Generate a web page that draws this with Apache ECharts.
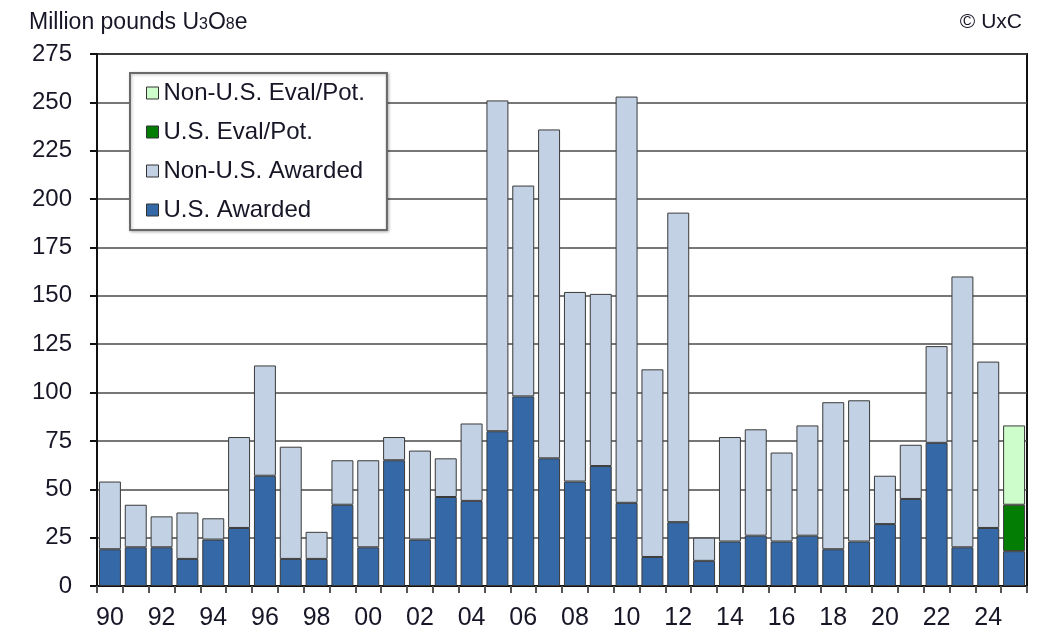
<!DOCTYPE html>
<html>
<head>
<meta charset="utf-8">
<script src="https://cdn.jsdelivr.net/npm/echarts@6/dist/echarts.min.js"></script>
<style>
  html, body { margin: 0; padding: 0; background: #fff; }
  #chart { width: 1050px; height: 632px; }
</style>
</head>
<body>
<div id="chart"></div>
<script>
// years 1990..2025, labelled by last two digits
var years = ['90','91','92','93','94','95','96','97','98','99',
             '00','01','02','03','04','05','06','07','08','09',
             '10','11','12','13','14','15','16','17','18','19',
             '20','21','22','23','24','25'];

var usAwarded    = [19, 20, 20, 14, 24, 30, 57, 14, 14, 42,
                    20, 65, 24, 46, 44, 80, 98, 66, 54, 62,
                    43, 15, 33, 13, 23, 26, 23, 26, 19, 23,
                    32, 45, 74, 20, 30, 18];
var nonUsAwarded = [35, 22, 16, 24, 11, 47, 57, 58, 14, 23,
                    45, 12, 46, 20, 40, 171, 109, 170, 98, 89,
                    210, 97, 160, 12, 54, 55, 46, 57, 76, 73,
                    25, 28, 50, 140, 86, null];
var usEval       = [null, null, null, null, null, null, null, null, null, null,
                    null, null, null, null, null, null, null, null, null, null,
                    null, null, null, null, null, null, null, null, null, null,
                    null, null, null, null, null, 24];
var nonUsEval    = [null, null, null, null, null, null, null, null, null, null,
                    null, null, null, null, null, null, null, null, null, null,
                    null, null, null, null, null, null, null, null, null, null,
                    null, null, null, null, null, 41];

var yTicks = { min: 0, max: 275, step: 25 };

var font = '"Liberation Sans", Arial, sans-serif';
var txt = '#161626';

function barSeries(name, data, color) {
    return {
        name: name,
        type: 'bar',
        stack: 'total',
        barCategoryGap: '15%',
        itemStyle: { color: color, borderColor: '#3a3a3a', borderWidth: 1 },
        emphasis: { disabled: true },
        data: data
    };
}

var myChart = echarts.init(document.getElementById('chart'), null, { renderer: 'canvas' });

var option = {
    animation: false,
    backgroundColor: '#fff',
    textStyle: { fontFamily: font },
    title: [
        {
            left: 24, top: 6,
            text: 'Million pounds U{s|3}O{s|8}e',
            textStyle: {
                fontFamily: font, fontSize: 23, fontWeight: 'normal', color: txt,
                rich: { s: { fontFamily: font, fontSize: 16, color: txt, padding: [4, 0, 0, 0] } }
            }
        },
        {
            right: 23, top: 7,
            text: '\u00a9 UxC',
            textStyle: { fontFamily: font, fontSize: 21, fontWeight: 'normal', color: txt }
        }
    ],
    legend: {
        orient: 'vertical',
        left: 130, top: 73,
        padding: [8, 22, 8, 16],
        itemGap: 15,
        itemWidth: 12, itemHeight: 12,
        icon: 'rect',
        backgroundColor: '#fff',
        borderColor: '#6a6a6a', borderWidth: 2,
        shadowColor: 'rgba(0,0,0,0.25)', shadowBlur: 3, shadowOffsetX: 1, shadowOffsetY: 1,
        textStyle: { fontFamily: font, fontSize: 24, color: txt, lineHeight: 24 },
        itemStyle: { borderColor: '#333', borderWidth: 1 },
        data: ['Non-U.S. Eval/Pot.', 'U.S. Eval/Pot.', 'Non-U.S. Awarded', 'U.S. Awarded']
    },
    grid: {
        left: 97, right: 23, top: 54, bottom: 46,
        show: true, borderColor: '#111', borderWidth: 2,
        outerBoundsMode: 'none'
    },
    xAxis: {
        type: 'category',
        data: years,
        axisLine: { lineStyle: { color: '#111', width: 2 } },
        axisTick: { show: true, interval: 0, length: 7, lineStyle: { color: '#555', width: 2 } },
        axisLabel: { interval: 1, fontFamily: font, fontSize: 25, color: txt, margin: 20 },
        splitLine: { show: false }
    },
    yAxis: {
        type: 'value',
        min: yTicks.min, max: yTicks.max, interval: yTicks.step,
        axisLine: { show: true, lineStyle: { color: '#111', width: 2 } },
        axisTick: { show: true, length: 7, lineStyle: { color: '#111', width: 2 } },
        axisLabel: { fontFamily: font, fontSize: 24, color: txt, margin: 25 },
        splitLine: { show: true, lineStyle: { color: '#4a4a4a', width: 1.5 } }
    },
    series: [
        barSeries('U.S. Awarded', usAwarded, '#3568a6'),
        barSeries('Non-U.S. Awarded', nonUsAwarded, '#c2d1e4'),
        barSeries('U.S. Eval/Pot.', usEval, '#037d03'),
        barSeries('Non-U.S. Eval/Pot.', nonUsEval, '#ccfdca')
    ]
};

myChart.setOption(option);
</script>
</body>
</html>
